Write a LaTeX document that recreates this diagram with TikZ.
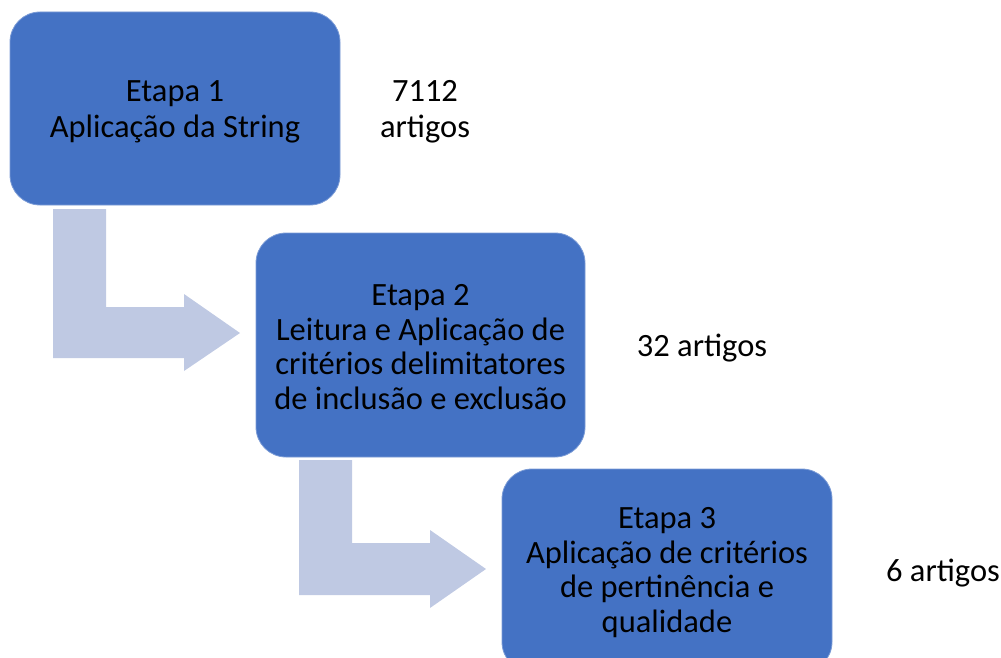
\documentclass[tikz,border=0pt]{standalone}
\usepackage{fontspec}
\setmainfont{Carlito}
\definecolor{boxblue}{HTML}{4472C4}
\definecolor{arrowblue}{HTML}{BFC9E3}
\begin{document}
\begin{tikzpicture}[x=1pt,y=-1pt,
  stepbox/.style={fill=boxblue, draw=boxblue!70!white, line width=0.8pt, rounded corners=30pt},
  txt/.style={font=\fontsize{32.5}{34.5}\selectfont, align=center, text=black, inner sep=0pt}]
\useasboundingbox (0,0) rectangle (1001,658);
\begin{scope}
\clip (0,0) rectangle (1001,658);
% bent arrows
\fill[arrowblue] (53,209) -- (106,209) -- (106,307) -- (184,307) -- (184,294) -- (240,333) -- (184,371) -- (184,358) -- (53,358) -- cycle;
\fill[arrowblue] (299,460) -- (352,460) -- (352,543) -- (430,543) -- (430,530) -- (486,569) -- (430,608) -- (430,595) -- (299,595) -- cycle;
% boxes
\draw[stepbox] (10,12) rectangle (340,205);
\draw[stepbox] (256,233) rectangle (585,457);
\draw[stepbox] (502,469) rectangle (832,672);
\end{scope}
\node[txt, font=\fontsize{32.5}{36}\selectfont] (t1) at (175,112) {Etapa 1\\Aplicação da String};
\node[txt] (t2) at (420.5,347) {Etapa 2\\Leitura e Aplicação de\\critérios delimitatores\\de inclusão e exclusão};
\node[txt] (t3) at (667,572.5) {Etapa 3\\Aplicação de critérios\\de pertinência e\\qualidade};
\node[txt, font=\fontsize{32.5}{36}\selectfont] (n1) at (425,112) {7112\\artigos};
\node[txt] (n2) at (702,348) {32 artigos};
\node[txt] (n3) at (943,573) {6 artigos};
\end{tikzpicture}
\end{document}
